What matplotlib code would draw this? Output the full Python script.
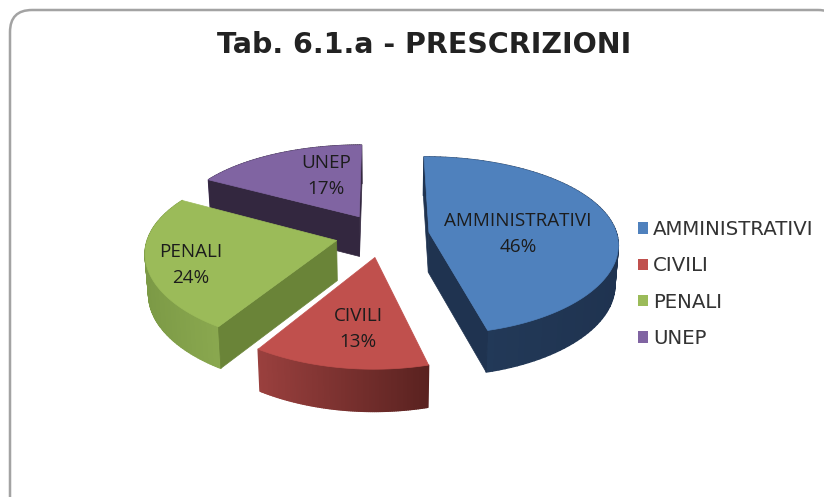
import numpy as np
import matplotlib
matplotlib.use("Agg")
import matplotlib.pyplot as plt
from matplotlib.collections import PolyCollection
from matplotlib.colors import to_rgb
from matplotlib.patches import FancyBboxPatch, Patch, Polygon

# Chart data
categories = ["AMMINISTRATIVI", "CIVILI", "PENALI", "UNEP"]
shares = [46, 13, 24, 17]
title = "Tab. 6.1.a - PRESCRIZIONI"

# Colours for each slice
topColors = ["#4f81bd", "#c0504d", "#9bbb59", "#8064a2"]
cutColors = ["#1f3350", "#5a2220", "#6a8438", "#33273f"]
wallLeft = ["#243c5c", "#9a403e", "#7c9a46", "#4a3a60"]
wallRight = ["#1f3350", "#5a2220", "#8aa84f", "#33273f"]

# Pie geometry, in pixels of the figure
centerX, centerY = 382.5, 235
radiusX, radiusY = 188, 87.5
perspectiveX = 0.12
perspectiveY = 0.15
explode = 0.25


def project(x, y):
    # Flat pie coordinates to the top face on screen
    return (centerX + radiusX * x / (1 + perspectiveX * y),
            centerY - radiusY * y / (1 + perspectiveY * y))


def projectBottom(x, y):
    # Same point on the lower face of the slice
    sx, sy = project(x, y)
    scale = 1 / (1 + perspectiveY * y)
    return centerX + (sx - centerX) * 0.985, sy + 30 + 10 * scale


def quad(p0, p1):
    return [project(*p0), project(*p1), projectBottom(*p1), projectBottom(*p0)]


fig = plt.figure(figsize=(8.24, 4.97), dpi=100)
ax = fig.add_axes([0, 0, 1, 1])
ax.set_xlim(0, 824)
ax.set_ylim(497, 0)
ax.axis("off")

ax.add_patch(FancyBboxPatch((10, 10), 830, 510, boxstyle="round,pad=0,rounding_size=22",
                            facecolor="white", edgecolor="#a3a3a3", linewidth=1.8, zorder=0))

ax.text(424, 45, title, ha="center", va="center", fontsize=20.5, fontweight="bold",
        color="#222222", family="DejaVu Sans")

# Slices clockwise from the top
edges = np.cumsum([0] + shares) / sum(shares) * 2 * np.pi
slices = []
for i in range(len(shares)):
    mid = (edges[i] + edges[i + 1]) / 2
    offset = (explode * np.sin(mid), explode * np.cos(mid))
    slices.append((offset[1], i, offset))

# Back slices first so the front ones overlap them
for depth, i, offset in sorted(slices, key=lambda s: s[0], reverse=True):
    angles = np.linspace(edges[i], edges[i + 1], 90)
    rimX = offset[0] + np.sin(angles)
    rimY = offset[1] + np.cos(angles)
    rim = list(zip(rimX, rimY))

    # Outer wall as thin shaded strips
    quads = []
    shades = []
    left = np.array(to_rgb(wallLeft[i]))
    right = np.array(to_rgb(wallRight[i]))
    screenX = np.array([project(*p)[0] for p in rim])
    for j in range(len(rim) - 1):
        quads.append(quad(rim[j], rim[j + 1]))
        t = (screenX[j] - screenX.min()) / (screenX.max() - screenX.min())
        shades.append(tuple(left + (right - left) * t))
    ax.add_collection(PolyCollection(quads, facecolors=shades, edgecolors=shades,
                                     linewidths=1, zorder=2))

    # Cut faces, only the ones turned to the viewer
    for end, normal in ((rim[0], edges[i] - np.pi / 2), (rim[-1], edges[i + 1] + np.pi / 2)):
        if np.cos(normal) < 1e-6:
            ax.add_patch(Polygon(quad(offset, end), closed=True, facecolor=cutColors[i],
                                 edgecolor=cutColors[i], linewidth=0.5, zorder=2))

    top = [project(*offset)] + [project(*p) for p in rim]
    ax.add_patch(Polygon(top, closed=True, facecolor=topColors[i], edgecolor=topColors[i],
                         linewidth=0.5, zorder=2))

# Data labels
labelX = [518, 358, 191, 326]
labelY = [234, 329, 265, 176]
for name, share, x, y in zip(categories, shares, labelX, labelY):
    ax.text(x, y, f"{name}\n{share}%", ha="center", va="center", fontsize=13.6,
            linespacing=1.56, color="#1c1c1c", family="Open Sans", zorder=3)

handles = [Patch(facecolor=c, edgecolor="none") for c in topColors]
ax.legend(handles, categories, loc="upper left", bbox_to_anchor=(638, 220),
          bbox_transform=ax.transData, frameon=False, borderpad=0, borderaxespad=0,
          handlelength=0.51, handleheight=0.51, handletextpad=0.25, labelspacing=0.88,
          prop={"family": "DejaVu Sans", "size": 14.2}, labelcolor="#333333")

fig.savefig("out.png", dpi=100)
